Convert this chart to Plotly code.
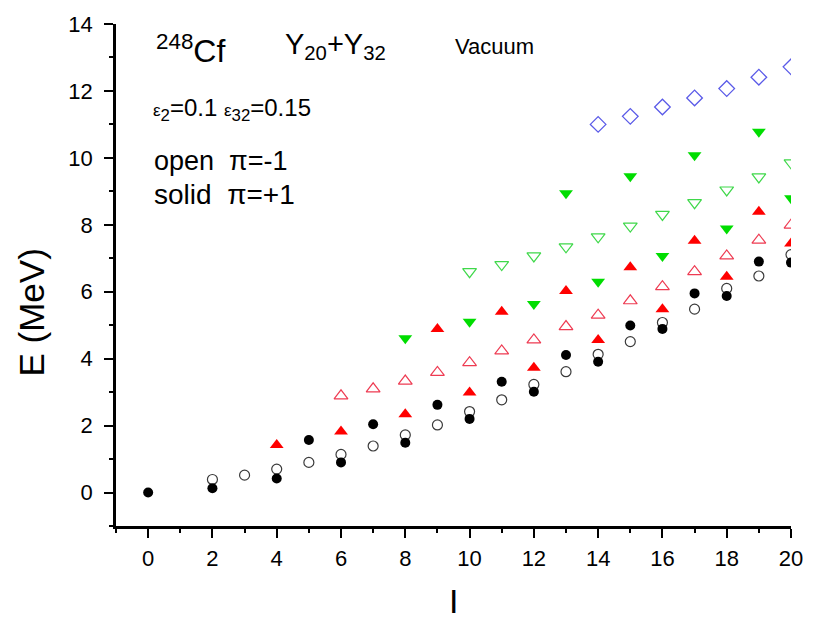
import plotly.graph_objects as go

# ---- data ----
I_black_solid = [0, 2, 4, 5, 6, 7, 8, 9, 10, 11, 12, 13, 14, 15, 16, 17, 18, 19, 20]
E_black_solid = [0, 0.13, 0.42, 1.57, 0.90, 2.04, 1.49, 2.62, 2.20, 3.31, 3.01, 4.11, 3.91, 4.99, 4.89, 5.95, 5.87, 6.90, 6.87]

I_black_open = [2, 3, 4, 5, 6, 7, 8, 9, 10, 11, 12, 13, 14, 15, 16, 17, 18, 19, 20]
E_black_open = [0.39, 0.52, 0.70, 0.90, 1.14, 1.39, 1.72, 2.02, 2.42, 2.77, 3.23, 3.61, 4.13, 4.51, 5.08, 5.48, 6.10, 6.47, 7.11]

I_red_solid = [4, 6, 8, 9, 10, 11, 12, 13, 14, 15, 16, 17, 18, 19, 20]
E_red_solid = [1.42, 1.82, 2.34, 4.89, 2.99, 5.40, 3.73, 6.02, 4.56, 6.73, 5.48, 7.52, 6.45, 8.39, 7.44]

I_red_open = [6, 7, 8, 9, 10, 11, 12, 13, 14, 15, 16, 17, 18, 19, 20]
E_red_open = [2.89, 3.10, 3.33, 3.59, 3.88, 4.23, 4.56, 4.96, 5.30, 5.73, 6.15, 6.60, 7.07, 7.54, 7.99]

I_green_solid = [8, 10, 12, 13, 14, 15, 16, 17, 18, 19, 20]
E_green_solid = [4.61, 5.10, 5.63, 8.94, 6.30, 9.45, 7.07, 10.08, 7.89, 10.78, 8.79]

I_green_open = [10, 11, 12, 13, 14, 15, 16, 17, 18, 19, 20]
E_green_open = [6.60, 6.81, 7.07, 7.34, 7.64, 7.96, 8.31, 8.66, 9.04, 9.43, 9.85]

I_blue_open = [14, 15, 16, 17, 18, 19, 20]
E_blue_open = [11.0, 11.24, 11.52, 11.79, 12.07, 12.41, 12.72]

x_tickvals = [0, 2, 4, 6, 8, 10, 12, 14, 16, 18, 20]
y_tickvals = [0, 2, 4, 6, 8, 10, 12, 14]

FONT = "Arial, Liberation Sans, sans-serif"

fig = go.Figure()


def add(xs, ys, symbol, color, size, open_=False, lw=1.3):
    if open_:
        marker = dict(symbol=symbol + "-open", size=size, color=color, line=dict(color=color, width=lw))
    else:
        marker = dict(symbol=symbol, size=size, color=color, line=dict(width=0))
    fig.add_trace(go.Scatter(x=xs, y=ys, mode="markers", marker=marker, showlegend=False, hoverinfo="x+y"))


add(I_black_open, E_black_open, "circle", "#3a3a3a", 10, open_=True, lw=1.2)
add(I_black_solid, E_black_solid, "circle", "#000000", 10)
add(I_red_open, E_red_open, "triangle-up", "#ee3b52", 12, open_=True, lw=1.2)
add(I_red_solid, E_red_solid, "triangle-up", "#ff0000", 12)
add(I_green_open, E_green_open, "triangle-down", "#3fd84a", 12, open_=True, lw=1.2)
add(I_green_solid, E_green_solid, "triangle-down", "#00dd00", 12)
add(I_blue_open, E_blue_open, "diamond", "#5a5ae8", 12, open_=True, lw=1.3)

axis_common = dict(
    showgrid=False,
    zeroline=False,
    showline=True,
    linecolor="black",
    linewidth=2.5,
    mirror=False,
    ticks="outside",
    ticklen=9,
    tickwidth=2,
    tickcolor="black",
    tickfont=dict(family=FONT, size=22, color="black"),
)

fig.update_xaxes(
    range=[-1, 20],
    tickvals=x_tickvals,
    minor=dict(dtick=1, tick0=0, ticks="outside", ticklen=4, tickwidth=2, tickcolor="black"),
    ticklabelstandoff=2,
    **axis_common,
)
fig.update_yaxes(
    range=[-1, 14],
    tickvals=y_tickvals,
    minor=dict(dtick=1, tick0=0, ticks="outside", ticklen=4, tickwidth=2, tickcolor="black"),
    ticklabelstandoff=7,
    **axis_common,
)

W, H = 815, 620
L, R, T, B = 116, 15, 23, 94


def px(xp):
    return (xp - L) / (W - L - R)


def py(yp):
    return (H - B - yp) / (H - T - B)


annots = [
    dict(text="<sup>248</sup>Cf", x=px(155), y=py(48), size=32),
    dict(text="Y<sub>20</sub>+Y<sub>32</sub>", x=px(285), y=py(45), size=29),
    dict(text="Vacuum", x=px(457), y=py(46), size=22),
    dict(text="<span style='font-size:17px'>ε</span><sub>2</sub>=0.1 <span style='font-size:17px'>ε</span><sub>32</sub>=0.15",
         x=px(151), y=py(109), size=24),
    dict(text="open  π=-1", x=px(152), y=py(160), size=27),
    dict(text="solid  π=+1", x=px(152), y=py(194), size=28),
]
for a in annots:
    fig.add_annotation(text=a["text"], x=a["x"], y=a["y"], xref="paper", yref="paper",
                       xanchor="left", yanchor="middle", showarrow=False,
                       font=dict(family=FONT, size=a["size"], color="black"))

fig.add_annotation(text="E (MeV)", x=px(30), y=py(312), xref="paper", yref="paper",
                   textangle=-90, showarrow=False, xanchor="center", yanchor="middle",
                   font=dict(family=FONT, size=35, color="black"))
fig.add_annotation(text="I", x=px(458), y=py(601), xref="paper", yref="paper",
                   showarrow=False, xanchor="center", yanchor="middle",
                   font=dict(family=FONT, size=34, color="black"))

fig.update_layout(
    width=W,
    height=H,
    margin=dict(l=L, r=R, t=T, b=B),
    plot_bgcolor="white",
    paper_bgcolor="white",
    showlegend=False,
)

fig.write_html("out.html")
